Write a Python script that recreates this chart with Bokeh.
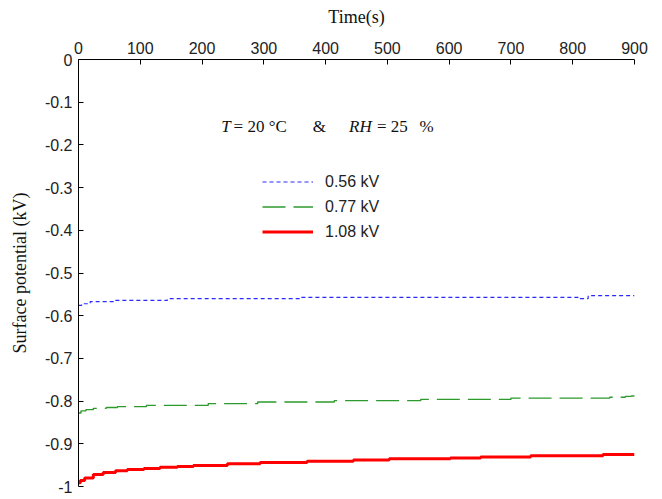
from bokeh.plotting import figure
from bokeh.models import Range1d, FixedTicker, LinearAxis, Label
from bokeh.embed import file_html
from bokeh.resources import INLINE

# Surface potential decay, three charging voltages
t_056 = [0, 5, 19, 57, 144, 359, 600, 791, 812, 825, 900]
v_056 = [-0.576, -0.572, -0.567, -0.564, -0.560, -0.557, -0.557, -0.557, -0.560, -0.553, -0.553]

t_077 = [0, 4, 12, 24, 45, 63, 110, 210, 290, 414, 554, 700, 860, 885, 895, 900]
v_077 = [-0.828, -0.823, -0.820, -0.817, -0.815, -0.813, -0.810, -0.806, -0.802,
         -0.799, -0.796, -0.793, -0.791, -0.789, -0.788, -0.789]

t_108 = [0, 3, 10, 24, 40, 60, 79, 106, 132, 160, 186, 241, 294, 370, 445, 503,
         602, 651, 732, 849, 900]
v_108 = [-0.991, -0.986, -0.980, -0.972, -0.967, -0.963, -0.960, -0.958, -0.955,
         -0.953, -0.951, -0.947, -0.944, -0.941, -0.938, -0.935, -0.933, -0.931,
         -0.928, -0.925, -0.925]

series_labels = ["0.56 kV", "0.77 kV", "1.08 kV"]

x_ticks = [0, 100, 200, 300, 400, 500, 600, 700, 800, 900]
y_ticks = [0, -0.1, -0.2, -0.3, -0.4, -0.5, -0.6, -0.7, -0.8, -0.9, -1]
y_tick_labels = ["0", "-0.1", "-0.2", "-0.3", "-0.4", "-0.5", "-0.6", "-0.7", "-0.8", "-0.9", "-1"]

TICK_FONT = "Liberation Sans"
SERIF = "Liberation Serif"

p = figure(
    width=662, height=499,
    frame_width=556, frame_height=427,
    min_border_left=78, min_border_right=28, min_border_top=59, min_border_bottom=13,
    x_range=Range1d(0, 900), y_range=Range1d(-1, 0),
    x_axis_location=None, y_axis_location=None,
    output_backend="svg", toolbar_location=None,
)
p.outline_line_color = None
p.grid.visible = False
p.background_fill_color = "white"
p.border_fill_color = "white"

xaxis = LinearAxis(ticker=FixedTicker(ticks=x_ticks), axis_label="Time(s)")
yaxis = LinearAxis(ticker=FixedTicker(ticks=y_ticks), axis_label="Surface potential (kV)")
yaxis.major_label_overrides = {t: s for t, s in zip(y_ticks, y_tick_labels)}

for ax in (xaxis, yaxis):
    ax.axis_line_color = "black"
    ax.axis_line_width = 1
    ax.major_tick_in = 5
    ax.major_tick_out = 0
    ax.major_tick_line_color = "black"
    ax.minor_tick_line_color = None
    ax.major_label_text_font = TICK_FONT
    ax.major_label_text_font_size = "16px"
    ax.major_label_text_color = "#222222"
    ax.major_label_standoff = 6
    ax.axis_label_text_font = SERIF
    ax.axis_label_text_font_size = "18px"
    ax.axis_label_text_font_style = "normal"
    ax.axis_label_text_color = "#111111"
    ax.axis_label_standoff = 12

p.add_layout(xaxis, "above")
p.add_layout(yaxis, "left")

p.step(t_056, v_056, mode="after", line_color="#2a2aff", line_width=1.2,
       line_dash="4 3", legend_label=series_labels[0])
p.step(t_077, v_077, mode="after", line_color="#2e9a2e", line_width=1.4,
       line_dash="23 8", legend_label=series_labels[1])
p.step(t_108, v_108, mode="after", line_color="#ff0000", line_width=3,
       legend_label=series_labels[2])

leg = p.legend[0]
leg.location = (184, 244)
leg.border_line_color = None
leg.background_fill_alpha = 0
leg.padding = 0
leg.margin = 0
leg.spacing = 4
leg.glyph_width = 51
leg.glyph_height = 21
leg.label_height = 21
leg.label_standoff = 12
leg.label_text_font = TICK_FONT
leg.label_text_font_size = "16px"
leg.label_text_color = "#222222"

# condition annotation: T = 20 °C  &  RH = 25 %
ann_y = -0.157
for txt, xpos, style in [("T", 231, "italic"), ("= 20 °C", 251, "normal"),
                         ("&", 379, "normal"), ("RH", 438, "italic"),
                         ("= 25", 483, "normal"), ("%", 552, "normal")]:
    p.add_layout(Label(x=xpos, y=ann_y, text=txt, text_font=SERIF,
                       text_font_size="17px", text_font_style=style,
                       text_baseline="middle", text_color="#111111"))

open("out.html", "w").write(file_html(p, INLINE))
